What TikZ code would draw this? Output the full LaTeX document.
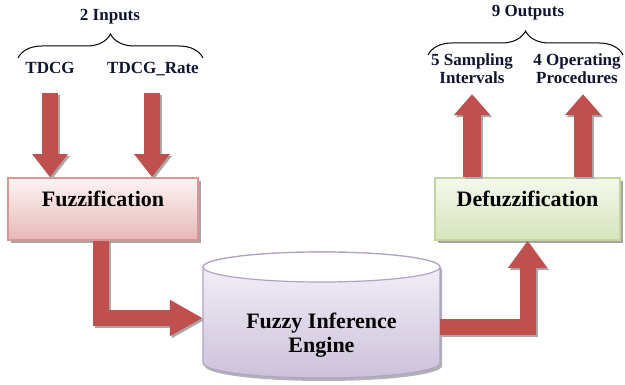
\documentclass[tikz,border=0pt]{standalone}
\usepackage{fontspec}
\setmainfont{Liberation Serif}
\usetikzlibrary{arrows.meta,decorations.pathreplacing,calc,shadows}
\definecolor{arrowred}{HTML}{C0504D}
\definecolor{arrowshadow}{HTML}{A8A8A8}
\definecolor{fuzzborder}{HTML}{D99694}
\definecolor{fuzztop}{HTML}{FDF4F4}
\definecolor{fuzzbot}{HTML}{E6B8B7}
\definecolor{defborder}{HTML}{C3D69B}
\definecolor{deftop}{HTML}{F4F8EC}
\definecolor{defbot}{HTML}{D7E4BD}
\definecolor{cylborder}{HTML}{B3A2C7}
\definecolor{cyltop}{HTML}{F7F4FA}
\definecolor{cylbot}{HTML}{CCC1DA}
\definecolor{txt}{HTML}{10142E}
\newcommand\shadarrow[2]{%
  \draw[#1,draw=arrowshadow,transform canvas={shift={(2pt,-2pt)}}] #2;
  \draw[#1,draw=arrowred] #2;}
\begin{document}
\begin{tikzpicture}[x=1pt,y=-1pt,
  lbl/.style={font=\fontsize{17}{18}\selectfont\bfseries, text=txt, inner sep=0pt, align=center},
  boxtext/.style={font=\fontsize{22}{24}\selectfont\bfseries, text=black},
  procbox/.style={boxtext, rectangle, line width=1.6pt, minimum height=62pt, inner sep=0pt,
    text height=15pt, text depth=20pt,
    drop shadow={shadow xshift=3pt, shadow yshift=-3pt, fill=black, opacity=0.35}},
  bigarrow/.style={line width=16pt, line join=miter},
  brc/.style={decorate, decoration={brace, amplitude=24pt, aspect=0.5}, line width=1pt, draw=black}
]
\useasboundingbox (0,0) rectangle (625,385);

% labels
\node[lbl] (inputs) at (110,17) {2 Inputs};
\node[lbl, anchor=base] (tdcg) at (50,74) {TDCG};
\node[lbl, anchor=base] (rate) at (153,74) {TDCG\_Rate};
\node[lbl] (outputs) at (528,13) {9 Outputs};
\node[lbl] (samp) at (472,69) {5 Sampling\\Intervals};
\node[lbl] (ops) at (577,69) {4 Operating\\Procedures};

% braces
\coordinate (inl) at (18,58);
\coordinate (inr) at (203,58);
\coordinate (outl) at (428,55);
\coordinate (outr) at (623,55);
\draw[brc] (inl) -- (inr);
\draw[brc] (outl) -- (outr);

% boxes
\node[procbox, draw=fuzzborder, top color=fuzztop, bottom color=fuzzbot, minimum width=190pt]
  (fuzz) at (103,209) {Fuzzification};
\node[procbox, draw=defborder, top color=deftop, bottom color=defbot, minimum width=185pt]
  (defuzz) at (527.5,209) {Defuzzification};

% cylinder
\node[minimum width=237pt, minimum height=126pt, inner sep=0pt] (fie) at (321.5,315) {};
\path[fill=black!30, transform canvas={shift={(2pt,-3pt)}}]
  (203,267) -- (203,363) arc[start angle=180, end angle=360, x radius=118.5pt, y radius=15pt]
  -- (440,267) arc[start angle=0, end angle=180, x radius=118.5pt, y radius=15pt] -- cycle;
\path[draw=cylborder, line width=1.2pt, top color=cyltop, bottom color=cylbot]
  (203,267) -- (203,363) arc[start angle=180, end angle=360, x radius=118.5pt, y radius=15pt]
  -- (440,267) arc[start angle=0, end angle=180, x radius=118.5pt, y radius=15pt] -- cycle;
\draw[cylborder, line width=1.2pt, fill=white] (321.5,267) ellipse [x radius=118.5pt, y radius=15pt];
\node[boxtext, align=center] (fielabel) at (321.5,335) {Fuzzy Inference\\Engine};

% arrows
\shadarrow{bigarrow, -{Triangle[width=34pt,length=23pt]}, shorten <=19pt}{(tdcg.base) -- (tdcg.base |- fuzz.north)}
\shadarrow{bigarrow, -{Triangle[width=34pt,length=23pt]}, shorten <=19pt}{($(rate.base)+(-1,0)$) -- ($(rate.base |- fuzz.north)+(-1,0)$)}
\shadarrow{bigarrow, -{Triangle[width=34pt,length=33pt]}}{($(fuzz.south)+(-2,0)$) |- ($(fie.west)+(0,3)$)}
\shadarrow{bigarrow, -{Triangle[width=37pt,length=27pt]}}{($(fie.east)+(0,12)$) -| (defuzz.south)}
\shadarrow{bigarrow, line width=18pt, -{Triangle[width=35pt,length=21pt]}, shorten >=10pt}{(defuzz.north -| samp.south) -- (samp.south)}
\shadarrow{bigarrow, line width=18pt, -{Triangle[width=35pt,length=21pt]}, shorten >=10pt}{($(defuzz.north -| ops.south)+(6,0)$) -- ($(ops.south)+(6,0)$)}
\end{tikzpicture}
\end{document}
